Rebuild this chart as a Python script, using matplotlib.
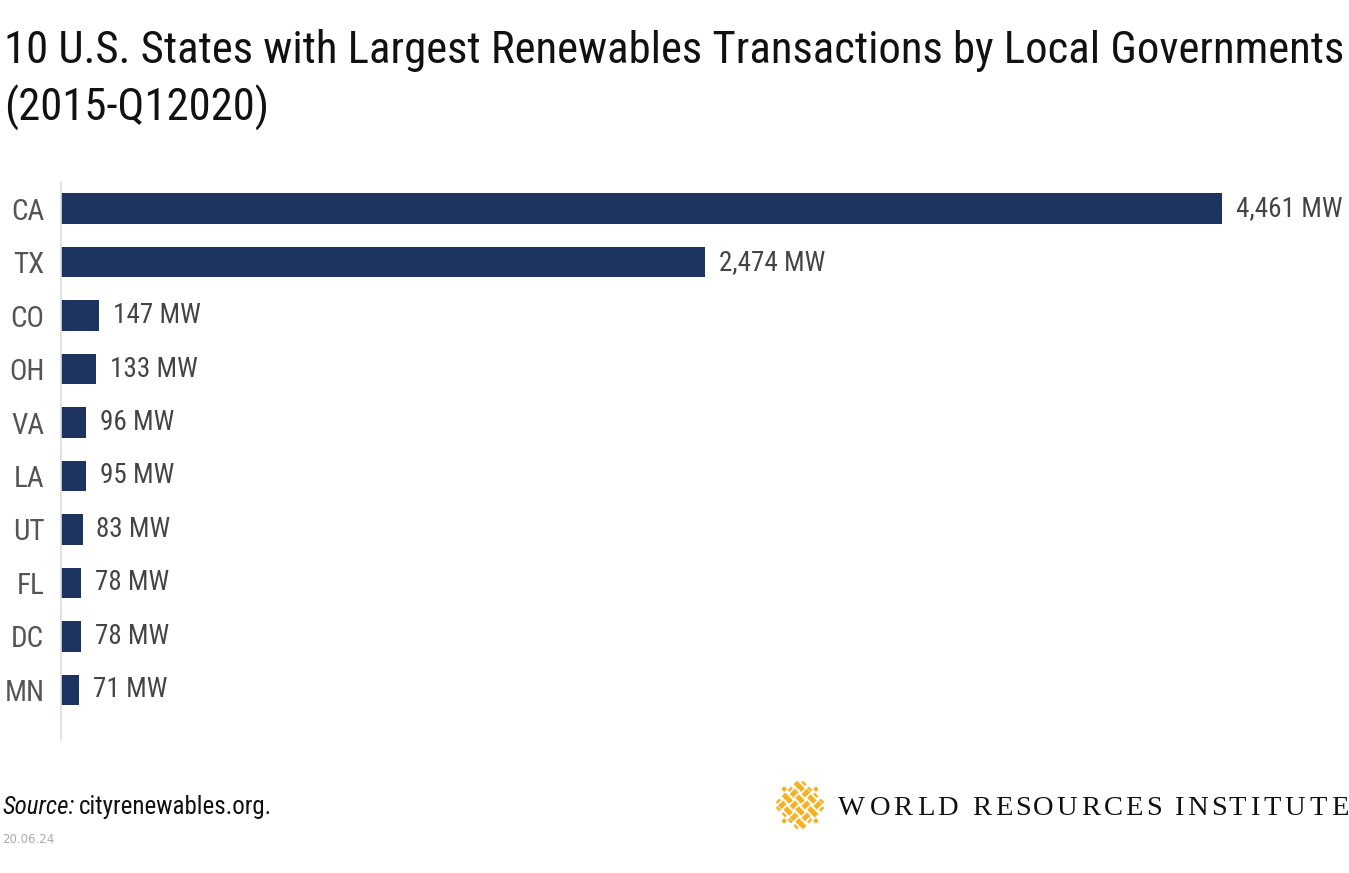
import numpy as np
import matplotlib
matplotlib.use("Agg")
import matplotlib.pyplot as plt
from matplotlib import font_manager
from matplotlib.patches import Polygon
from matplotlib.textpath import TextPath

states = ["CA", "TX", "CO", "OH", "VA", "LA", "UT", "FL", "DC", "MN"]
mw = [4461, 2474, 147, 133, 96, 95, 83, 78, 78, 71]
value_labels = ["4,461 MW", "2,474 MW", "147 MW", "133 MW", "96 MW",
                "95 MW", "83 MW", "78 MW", "78 MW", "71 MW"]

title1 = "10 U.S. States with Largest Renewables Transactions by Local Governments"
title2 = "(2015-Q12020)"
source = "cityrenewables.org."
date = "20.06.24"
org = "WORLD RESOURCES INSTITUTE"


def pick_font(names):
    for n in names:
        try:
            font_manager.findfont(n, fallback_to_default=False)
            return n
        except Exception:
            pass
    return "DejaVu Sans"


narrow = pick_font(["Roboto Condensed", "Liberation Sans Narrow", "DejaVu Sans"])
serif = pick_font(["Liberation Serif", "DejaVu Serif"])

W, H = 1349, 873
fig = plt.figure(figsize=(W / 100, H / 100), dpi=100)


def fx(px):
    return px / W


def fy(py):
    return 1 - py / H


# titles
fig.text(fx(4), fy(63), title1, fontsize=32.2, family=narrow, color="#111111", va="baseline")
fig.text(fx(4), fy(121), title2, fontsize=32.2, family=narrow, color="#111111", va="baseline")

# main axes
ax = fig.add_axes([fx(61), fy(740), fx(1340) - fx(61), fy(182) - fy(740)])
y = np.arange(len(states))
ax.barh(y, mw, height=0.57, color="#1d3461", edgecolor="none")
ax.set_ylim(9.94, -0.5)
ax.set_xlim(0, 1279 / 0.2603)
ax.set_yticks(y)
ax.set_yticklabels(states, fontsize=21, family=narrow, color="#555555")
ax.tick_params(axis="y", length=0, pad=12)
ax.set_xticks([])
for s in ["top", "right", "bottom"]:
    ax.spines[s].set_visible(False)
ax.spines["left"].set_color("#dddddd")
ax.spines["left"].set_linewidth(1.2)

for i, (v, lab) in enumerate(zip(mw, value_labels)):
    ax.annotate(lab, xy=(v, i), xytext=(10, 0), textcoords="offset points",
                va="center", ha="left", fontsize=19.5, family=narrow, color="#444444")

# footer
t = fig.text(fx(2), fy(814), "Source:", fontsize=18, family=narrow, style="italic",
             color="#111111", va="baseline")
fig.canvas.draw()
bb = t.get_window_extent()
fig.text(bb.x1 / W + fx(5), fy(814), source, fontsize=18, family=narrow,
         color="#111111", va="baseline")
fig.text(fx(2), fy(843), date, fontsize=8.5, family="DejaVu Sans", color="#aaaaaa",
         va="baseline")

# logo mark: woven diamond (grid in rotated u, v coordinates)
lax = fig.add_axes([fx(772), fy(833), fx(56), fy(777) - fy(833)])
lax.set_xlim(-1, 1)
lax.set_ylim(-1, 1)
lax.axis("off")
gold = "#f4b223"
r2 = np.sqrt(2)


def rot(u, v):
    return (np.asarray(u) - np.asarray(v)) / r2, (np.asarray(u) + np.asarray(v)) / r2


pos = [-0.45, -0.15, 0.15, 0.45]
ext = 0.6
lw, bw = 3.6, 6.0
for p in pos:
    xs, ys = rot([-ext, ext], [p, p])
    lax.plot(xs, ys, color=gold, lw=lw, solid_capstyle="projecting", zorder=2)
for p in pos:
    xs, ys = rot([p, p], [-ext, ext])
    lax.plot(xs, ys, color="white", lw=bw, solid_capstyle="butt", zorder=3)
    lax.plot(xs, ys, color=gold, lw=lw, solid_capstyle="projecting", zorder=4)
for i, pu in enumerate(pos):
    for j, pv in enumerate(pos):
        if (i + j) % 2 == 1:
            xs, ys = rot([pu - 0.1, pu + 0.1], [pv, pv])
            lax.plot(xs, ys, color="white", lw=bw, solid_capstyle="butt", zorder=5)
            xs, ys = rot([pu - 0.13, pu + 0.13], [pv, pv])
            lax.plot(xs, ys, color=gold, lw=lw, solid_capstyle="butt", zorder=6)
for cu, cv in [(0.78, 0.78), (-0.78, -0.78), (0.78, -0.78), (-0.78, 0.78),
               (0.0, 0.8), (0.0, -0.8), (0.8, 0.0), (-0.8, 0.0)]:
    cx, cy = rot(cu, cv)
    d = 0.07
    lax.add_patch(Polygon([(cx - d, cy), (cx, cy + d), (cx + d, cy), (cx, cy - d)],
                          closed=True, color=gold, zorder=7))

# logo text, letter-spaced
size = 20.5
x0, x1 = 838, 1346
fp = font_manager.FontProperties(family=serif)
widths = []
for ch in org:
    if ch == " ":
        widths.append(size * 0.2 * 100 / 72)
    else:
        tp = TextPath((0, 0), ch, size=size * 100 / 72, prop=fp)
        widths.append(tp.get_extents().width)
gap = (x1 - x0 - sum(widths)) / (len(org) - 1)
xp = x0
for ch, w in zip(org, widths):
    if ch != " ":
        fig.text(fx(xp), fy(815), ch, fontsize=size, family=serif, color="#111111",
                 va="baseline", ha="left")
    xp += w + gap

fig.savefig("out.png", dpi=100)
